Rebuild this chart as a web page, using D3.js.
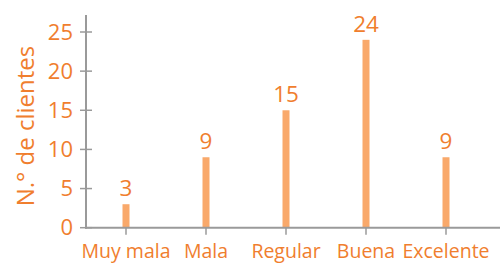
<!DOCTYPE html>
<html><head><meta charset="utf-8">
<script src="https://cdn.jsdelivr.net/npm/d3@7"></script>
<style>
html,body{margin:0;padding:0;background:#fff;}
text{font-family:"Open Sans",sans-serif;}
</style></head>
<body><svg id="c" width="500" height="264"></svg>
<script>
const categories = ["Muy mala","Mala","Regular","Buena","Excelente"];
const values = [3,9,15,24,9];
const yTicks = [0,5,10,15,20,25];
const yTitle = "N.° de clientes";

const svg = d3.select("#c");
const textColor = "#F07E2E", barColor = "#F9A96B", axisColor = "#9a9a9a";
const x0 = 86, x1 = 500, yBase = 227.7, yTop = 15;

const x = d3.scaleBand().domain(categories).range([86, 486]).padding(0);
const y = d3.scaleLinear().domain([0,25]).range([yBase, 32]);

// bars
svg.selectAll("rect.bar").data(values).join("rect")
  .attr("x", (d,i)=>x(categories[i]) + x.bandwidth()/2 - 3.5)
  .attr("width", 7)
  .attr("y", d=>y(d))
  .attr("height", d=>yBase - y(d))
  .attr("fill", barColor);

// value labels
svg.selectAll("text.val").data(values).join("text")
  .attr("x", (d,i)=>x(categories[i]) + x.bandwidth()/2)
  .attr("y", d=>y(d) - 8)
  .attr("text-anchor","middle")
  .attr("fill", textColor)
  .attr("font-size", 22.5)
  .text(d=>d);

// y axis
svg.append("line").attr("x1",x0).attr("x2",x0).attr("y1",yTop).attr("y2",yBase+1)
  .attr("stroke",axisColor).attr("stroke-width",2);
const yt = svg.selectAll("g.yt").data(yTicks).join("g").attr("transform", d=>`translate(0,${y(d)})`);
yt.append("line").attr("x1",80).attr("x2",92).attr("stroke",axisColor).attr("stroke-width",1.5);
yt.append("text").attr("x",73).attr("dy","0.35em").attr("text-anchor","end")
  .attr("fill",textColor).attr("font-size",22).text(d=>d);

// x axis
svg.append("line").attr("x1",x0-1).attr("x2",x1).attr("y1",yBase).attr("y2",yBase)
  .attr("stroke",axisColor).attr("stroke-width",2);
const xt = svg.selectAll("g.xt").data(categories).join("g")
  .attr("transform", d=>`translate(${x(d)+x.bandwidth()/2},0)`);
xt.append("line").attr("y1",yBase).attr("y2",yBase+7).attr("stroke",axisColor).attr("stroke-width",1.5);
xt.append("text").attr("y",258).attr("text-anchor","middle")
  .attr("fill",textColor).attr("font-size",19.5).text(d=>d);

// y title
svg.append("text").attr("transform","translate(33.5,126) rotate(-90)")
  .attr("text-anchor","middle").attr("fill",textColor).attr("font-size",24)
  .text(yTitle);
</script></body></html>
